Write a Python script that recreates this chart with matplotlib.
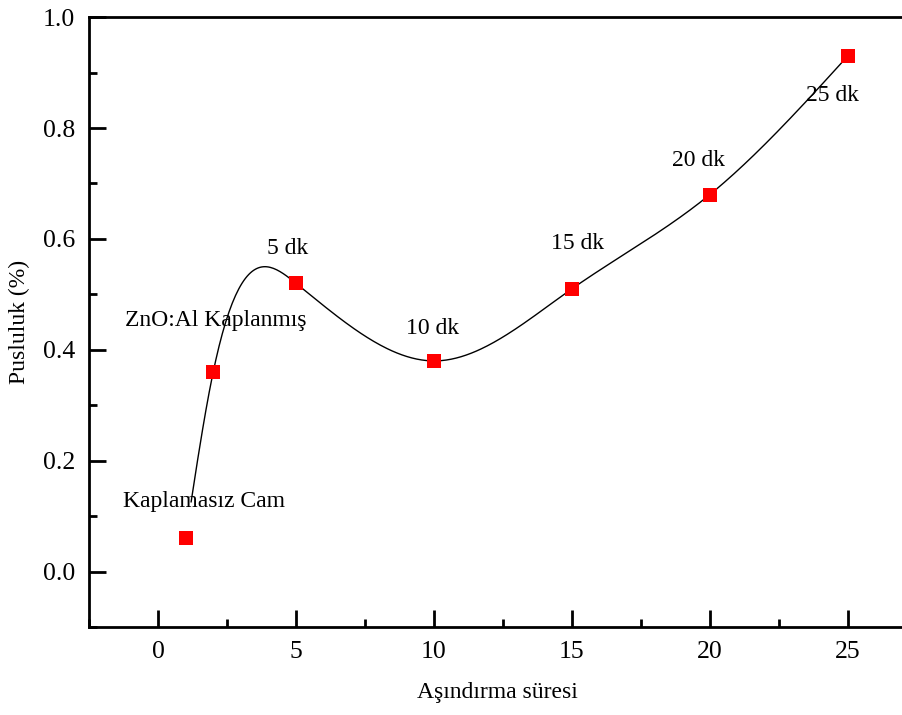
import numpy as np
import matplotlib
matplotlib.use("Agg")
import matplotlib.pyplot as plt
from matplotlib.ticker import MultipleLocator

x_vals = [1, 2, 5, 10, 15, 20, 25]
y_vals = [0.06, 0.36, 0.52, 0.38, 0.51, 0.68, 0.93]
point_labels = ["Kaplamasız Cam", "ZnO:Al Kaplanmış", "5 dk", "10 dk", "15 dk", "20 dk", "25 dk"]
label_offsets = [(0.67, 0.066), (0.10, 0.093), (-0.29, 0.062), (-0.04, 0.059), (0.22, 0.081), (-0.4, 0.061), (-0.54, -0.071)]
x_ticks = [0, 5, 10, 15, 20, 25]
y_ticks = [0.0, 0.2, 0.4, 0.6, 0.8, 1.0]


def natural_spline(x, y, xs):
    x = np.asarray(x, float); y = np.asarray(y, float)
    n = len(x)
    h = np.diff(x)
    A = np.zeros((n, n)); b = np.zeros(n)
    A[0, 0] = 1; A[-1, -1] = 1
    for i in range(1, n - 1):
        A[i, i - 1] = h[i - 1]
        A[i, i] = 2 * (h[i - 1] + h[i])
        A[i, i + 1] = h[i]
        b[i] = 3 * ((y[i + 1] - y[i]) / h[i] - (y[i] - y[i - 1]) / h[i - 1])
    c = np.linalg.solve(A, b)
    out = np.empty_like(xs)
    for k, xv in enumerate(xs):
        i = min(max(np.searchsorted(x, xv) - 1, 0), n - 2)
        bi = (y[i + 1] - y[i]) / h[i] - h[i] * (2 * c[i] + c[i + 1]) / 3
        di = (c[i + 1] - c[i]) / (3 * h[i])
        t = xv - x[i]
        out[k] = y[i] + bi * t + c[i] * t ** 2 + di * t ** 3
    return out


plt.rcParams['font.family'] = ['Liberation Serif', 'DejaVu Serif']

fig = plt.figure(figsize=(9.03, 7.15), dpi=100)
ax = fig.add_axes([0.0986, 0.123, 0.9014, 0.853])

xs = np.linspace(1.2, x_vals[-1], 400)
ax.plot(xs, natural_spline(x_vals, y_vals, xs), color='black', lw=1.0, zorder=2)
ax.plot(x_vals, y_vals, 's', color='#ff0000', markersize=9.5, markeredgewidth=0, zorder=3)

for xv, yv, lab, (dx, dy) in zip(x_vals, y_vals, point_labels, label_offsets):
    ax.text(xv + dx, yv + dy, lab, ha='center', va='center', fontsize=17, zorder=4)

ax.set_xlim(-2.5, 27.0)
ax.set_ylim(-0.1, 1.0)
ax.set_xticks(x_ticks)
ax.set_yticks(y_ticks)
ax.set_yticklabels([f"{v:.1f}" for v in y_ticks])
ax.xaxis.set_minor_locator(MultipleLocator(2.5))
ax.yaxis.set_minor_locator(MultipleLocator(0.1))
ax.tick_params(which='major', direction='in', length=12, width=2, labelsize=18.5, pad=10)
ax.tick_params(which='minor', direction='in', length=6, width=2)
ax.tick_params(axis='y', which='both', right=False)
ax.tick_params(axis='x', which='both', top=False)
for s in ['left', 'bottom', 'top']:
    ax.spines[s].set_linewidth(2)
ax.spines['right'].set_visible(False)

ax.set_xlabel('Aşındırma süresi', fontsize=17, va='center')
ax.set_ylabel('Pusluluk (%)', fontsize=17, va='center')
ax.xaxis.set_label_coords(0.502, -0.108)
ax.yaxis.set_label_coords(-0.085, 0.5)

fig.savefig('out.png', dpi=100)
